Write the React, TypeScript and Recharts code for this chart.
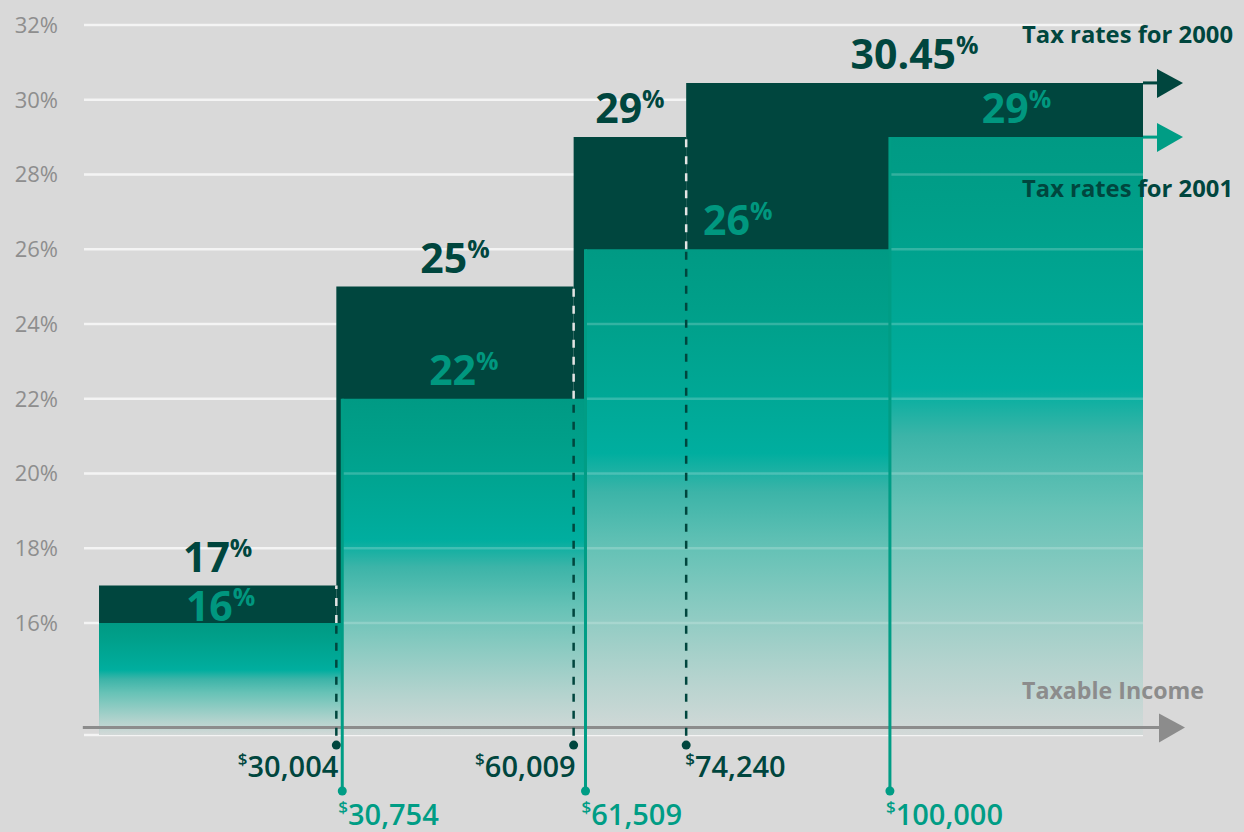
import React from 'react';
import {
  ComposedChart,
  Line,
  XAxis,
  YAxis,
  CartesianGrid,
  ReferenceArea,
  ReferenceLine,
  ReferenceDot,
} from 'recharts';

// ---------- data ----------
const bracketStarts2000 = [0, 30004, 60009, 74240];
const rates2000 = [17, 25, 29, 30.45];
const rateLabels2000 = ['17', '25', '29', '30.45'];

const bracketStarts2001 = [0, 30754, 61509, 100000];
const rates2001 = [16, 22, 26, 29];
const rateLabels2001 = ['16', '22', '26', '29'];

const thresholdLabels2000 = ['30,004', '60,009', '74,240'];
const thresholdLabels2001 = ['30,754', '61,509', '100,000'];

const yTicks = [16, 18, 20, 22, 24, 26, 28, 30, 32];
const INCOME_END = 132000; // right end of the drawn income scale

const seriesNames = ['Tax rates for 2000', 'Tax rates for 2001'];
const axisTitle = 'Taxable Income';

// ---------- layout / style ----------
const W = 1244;
const H = 832;
const MARGIN = { top: 25, right: 101, bottom: 97, left: 0 };
const Y_AXIS_W = 84;
const X_MIN = -1900;
const Y_MIN = 13;
const Y_MAX = 32;
const AXIS_Y = 13.2;
const DOT_Y_2000 = 12.73;
const DOT_Y_2001 = 11.5;
const PX_PER_PCT = (H - MARGIN.top - MARGIN.bottom) / (Y_MAX - Y_MIN);

const FONT = '"Open Sans", "Noto Sans", sans-serif';
const BG = '#d9d9d9';
const DARK = '#00463e';
const TEAL = '#009d85';
const TEAL_TEXT = '#00977f';
const GREY = '#8c8c8c';

const ends = (starts: number[]) => starts.slice(1).concat(INCOME_END);
const ends2000 = ends(bracketStarts2000);
const ends2001 = ends(bracketStarts2001);

const rateAt = (starts: number[], rates: number[], x: number) => {
  let r = rates[0];
  starts.forEach((s, i) => {
    if (x >= s) r = rates[i];
  });
  return r;
};

const lineRows = bracketStarts2000.map((s, i) => ({ income: s, rate: rates2000[i] }));

const YTick = (props: any) => (
  <text
    x={58}
    y={props.y}
    dy={8}
    textAnchor="end"
    fontSize={22}
    fill="#8e8e8e"
    fontFamily={FONT}
  >
    {props.payload.value}%
  </text>
);

const rateLabel = (text: string, color: string, offset: number) => (props: any) => (
  <text
    x={props.cx}
    y={props.cy - offset}
    textAnchor="middle"
    fill={color}
    fontSize={41}
    fontWeight={700}
    fontFamily={FONT}
  >
    {text}
    <tspan fontSize={25} dy={-15}>
      %
    </tspan>
  </text>
);

const thresholdDot =
  (label: string, color: string, anchor: 'start' | 'end', dx: number, dyText: number) =>
  (props: any) => (
    <g>
      <circle cx={props.cx} cy={props.cy} r={4.5} fill={color} />
      <text
        x={props.cx + dx}
        y={props.cy + dyText}
        textAnchor={anchor}
        fill={color}
        fontSize={29}
        fontWeight={600}
        fontFamily={FONT}
      >
        <tspan fontSize={17} dy={-12}>
          $
        </tspan>
        <tspan dy={12}>{label}</tspan>
      </text>
    </g>
  );

const seriesArrow =
  (name: string, color: string, textDy: number) => (props: any) => (
    <g>
      <line x1={props.cx} y1={props.cy} x2={props.cx + 18} y2={props.cy} stroke={color} strokeWidth={3} />
      <polygon
        points={`${props.cx + 14},${props.cy - 14} ${props.cx + 40},${props.cy} ${props.cx + 14},${props.cy + 15}`}
        fill={color}
      />
      <text
        x={props.cx - 121}
        y={props.cy + textDy}
        fill={DARK}
        fontSize={24}
        fontWeight={700}
        fontFamily={FONT}
        textLength={211}
        lengthAdjust="spacingAndGlyphs"
      >
        {name}
      </text>
    </g>
  );

const axisArrow = (props: any) => (
  <g>
    <line x1={props.cx} y1={props.cy} x2={props.cx + 18} y2={props.cy} stroke={GREY} strokeWidth={3} />
    <polygon
      points={`${props.cx + 16},${props.cy - 14} ${props.cx + 42},${props.cy} ${props.cx + 16},${props.cy + 15}`}
      fill={GREY}
    />
    <text
      x={props.cx + 61}
      y={props.cy - 29}
      textAnchor="end"
      fill={GREY}
      fontSize={24}
      fontWeight={700}
      fontFamily={FONT}
      textLength={182}
      lengthAdjust="spacingAndGlyphs"
    >
      {axisTitle}
    </text>
  </g>
);

export default function App() {
  const thresholds2000 = bracketStarts2000.slice(1);
  const thresholds2001 = bracketStarts2001.slice(1);

  return (
    <div
      style={{
        position: 'fixed',
        left: 0,
        top: 0,
        width: W,
        height: H,
        background: BG,
        fontFamily: FONT,
      }}
    >
      <ComposedChart width={W} height={H} data={lineRows} margin={MARGIN}>
        <defs>
          <linearGradient id="teal2001" x1="0" y1="0" x2="0" y2="1">
            <stop offset="0" stopColor="#009a84" />
            <stop offset="0.12" stopColor="#009f89" />
            <stop offset="0.35" stopColor="#00aa99" />
            <stop offset="0.42" stopColor="#00ae9f" />
            <stop offset="0.5" stopColor="#3cb4a8" />
            <stop offset="0.62" stopColor="#66c2b6" />
            <stop offset="0.75" stopColor="#8dcbc2" />
            <stop offset="0.88" stopColor="#b4d3ce" />
            <stop offset="1" stopColor="#d3d9d8" />
          </linearGradient>
        </defs>
        <CartesianGrid vertical={false} stroke="#f4f4f4" strokeWidth={2.5} />
        <XAxis type="number" dataKey="income" domain={[X_MIN, INCOME_END]} allowDataOverflow hide />
        <YAxis
          type="number"
          domain={[Y_MIN, Y_MAX]}
          ticks={yTicks}
          allowDataOverflow
          width={Y_AXIS_W}
          axisLine={false}
          tickLine={false}
          tick={<YTick />}
        />
        <Line dataKey="rate" stroke="none" dot={false} activeDot={false} isAnimationActive={false} />

        {/* 2000 brackets (dark) */}
        {bracketStarts2000.map((s, i) => (
          <ReferenceArea
            key={`d${i}`}
            x1={s}
            x2={ends2000[i]}
            y1={Y_MIN}
            y2={rates2000[i]}
            fill={DARK}
            fillOpacity={1}
            stroke="none"
            ifOverflow="visible"
          />
        ))}

        {/* 2001 brackets (teal gradient) */}
        {bracketStarts2001.map((s, i) => (
          <ReferenceArea
            key={`t${i}`}
            x1={s}
            x2={ends2001[i]}
            y1={Y_MIN}
            y2={rates2001[i]}
            fill="url(#teal2001)"
            fillOpacity={1}
            stroke="none"
            ifOverflow="visible"
          />
        ))}

        {/* faint grid lines seen through the teal */}
        {bracketStarts2001.map((s, i) =>
          yTicks
            .filter((t) => t < rates2001[i])
            .map((t) => (
              <ReferenceLine
                key={`g${i}-${t}`}
                segment={[
                  { x: s, y: t },
                  { x: ends2001[i], y: t },
                ]}
                stroke="rgba(255,255,255,0.2)"
                strokeWidth={2.5}
                ifOverflow="visible"
              />
            ))
        )}

        {/* x axis line */}
        <ReferenceLine
          segment={[
            { x: X_MIN - 150, y: AXIS_Y },
            { x: INCOME_END, y: AXIS_Y },
          ]}
          stroke={GREY}
          strokeWidth={3}
          ifOverflow="visible"
        />
        <ReferenceDot x={INCOME_END} y={AXIS_Y} r={0} ifOverflow="visible" shape={axisArrow} />

        {/* 2000 thresholds: dashed lines */}
        {thresholds2000.map((t, i) => {
          const lower = rateAt(bracketStarts2001, rates2001, t);
          return (
            <ReferenceLine
              key={`dd${i}`}
              segment={[
                { x: t, y: DOT_Y_2000 + 0.25 },
                { x: t, y: lower },
              ]}
              stroke={DARK}
              strokeWidth={2.5}
              strokeDasharray="8 9"
              ifOverflow="visible"
            />
          );
        })}
        {thresholds2000.map((t, i) => {
          const lower = rateAt(bracketStarts2001, rates2001, t);
          return (
            <ReferenceLine
              key={`dl${i}`}
              segment={[
                { x: t, y: lower },
                { x: t, y: rates2000[i] },
              ]}
              stroke="#e4e4e4"
              strokeWidth={2.5}
              strokeDasharray="8 9"
              ifOverflow="visible"
            />
          );
        })}
        {thresholds2000.map((t, i) => (
          <ReferenceDot
            key={`dp${i}`}
            x={t}
            y={DOT_Y_2000}
            r={0}
            ifOverflow="visible"
            shape={thresholdDot(
              thresholdLabels2000[i],
              DARK,
              i === thresholds2000.length - 1 ? 'start' : 'end',
              i === thresholds2000.length - 1 ? -1 : 2,
              32
            )}
          />
        ))}

        {/* 2001 thresholds: solid lines */}
        {thresholds2001.map((t, i) => (
          <ReferenceLine
            key={`tl${i}`}
            segment={[
              { x: t, y: DOT_Y_2001 },
              { x: t, y: rates2001[i + 1] },
            ]}
            stroke={TEAL}
            strokeWidth={3}
            ifOverflow="visible"
          />
        ))}
        {thresholds2001.map((t, i) => (
          <ReferenceDot
            key={`tp${i}`}
            x={t}
            y={DOT_Y_2001}
            r={0}
            ifOverflow="visible"
            shape={thresholdDot(thresholdLabels2001[i], TEAL, 'start', -4, 34)}
          />
        ))}

        {/* rate labels */}
        {bracketStarts2000.map((s, i) => (
          <ReferenceDot
            key={`rl0-${i}`}
            x={(s + ends2000[i]) / 2}
            y={rates2000[i]}
            r={0}
            ifOverflow="visible"
            shape={rateLabel(rateLabels2000[i], DARK, 14)}
          />
        ))}
        {bracketStarts2001.map((s, i) => {
          const center = (s + ends2001[i]) / 2;
          const gap = (rateAt(bracketStarts2000, rates2000, center) - rates2001[i]) * PX_PER_PCT;
          const offset = Math.max(2, Math.min(14, gap - 38));
          return (
            <ReferenceDot
              key={`rl1-${i}`}
              x={center}
              y={rates2001[i]}
              r={0}
              ifOverflow="visible"
              shape={rateLabel(rateLabels2001[i], TEAL_TEXT, offset)}
            />
          );
        })}

        {/* series arrows and names */}
        <ReferenceDot
          x={INCOME_END}
          y={rates2000[rates2000.length - 1]}
          r={0}
          ifOverflow="visible"
          shape={seriesArrow(seriesNames[0], DARK, -40)}
        />
        <ReferenceDot
          x={INCOME_END}
          y={rates2001[rates2001.length - 1]}
          r={0}
          ifOverflow="visible"
          shape={seriesArrow(seriesNames[1], TEAL, 60)}
        />
      </ComposedChart>
    </div>
  );
}
